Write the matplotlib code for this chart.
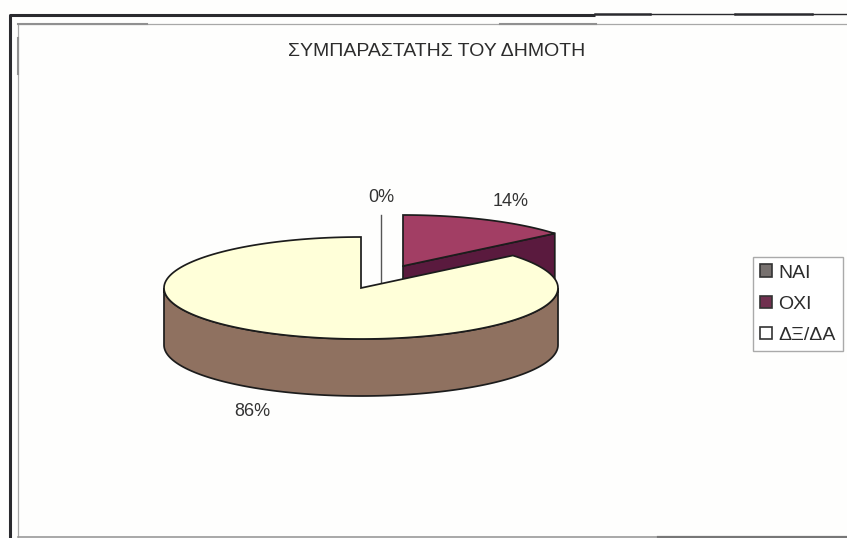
import numpy as np
import matplotlib
matplotlib.use("Agg")
import matplotlib.pyplot as plt
from matplotlib.patches import Patch

plt.rcParams['font.family'] = ['Liberation Sans', 'DejaVu Sans']

title = "ΣΥΜΠΑΡΑΣΤΑΤΗΣ ΤΟΥ ΔΗΜΟΤΗ"
categories = ["ΝΑΙ", "ΟΧΙ", "ΔΞ/ΔΑ"]
shares = [0, 14, 86]
pct_labels = ["0%", "14%", "86%"]

top_colors = ["#8F7160", "#A23E64", "#FFFFD9"]
side_colors = ["#8F7160", "#5A1A3E", "#8F7160"]
legend_colors = ["#77716F", "#70304F", "#FFFFFF"]
edge = "#1c1c1c"

RX, RY, DEPTH = 197, 51, 57
centers = [(381, 266), (403, 266), (361, 288)]
label_pos = [(381, 197), (511, 202), (252, 411)]

fig = plt.figure(figsize=(8.47, 5.38), dpi=100, facecolor="#FEFEFD")
ax = fig.add_axes([0, 0, 1, 1])
ax.set_xlim(0, 847)
ax.set_ylim(538, 0)
ax.axis("off")

# chart frame (scanned double border)
ax.plot([9.5, 9.5, 595], [538, 15, 15], color="#2a2a2e", lw=2.2, solid_capstyle="butt")
ax.plot([595, 650], [13.5, 13.5], color="#2a2a2e", lw=1.8)
ax.plot([650, 735], [14, 14], color="#2a2a2e", lw=1.0)
ax.plot([735, 812], [13.5, 13.5], color="#2a2a2e", lw=1.8)
ax.plot([812, 847], [14, 14], color="#2a2a2e", lw=1.0)
ax.plot([18, 18, 847], [538, 23.5, 23.5], color="#a8a8a8", lw=0.9)
ax.plot([18, 147], [23.5, 23.5], color="#909090", lw=1.5)
ax.plot([500, 596], [23.5, 23.5], color="#909090", lw=1.5)
ax.plot([18, 18], [38, 74], color="#909090", lw=1.5)
ax.plot([18, 658], [537, 537], color="#9a9a9a", lw=1.2)
ax.plot([658, 847], [537, 537], color="#777777", lw=1.6)


def rim(cx, cy, a0, a1, n=160):
    """Points on the ellipse, angle clockwise from 12 o'clock, in degrees."""
    t = np.radians(np.linspace(a0, a1, n))
    return cx + RX * np.sin(t), cy - RY * np.cos(t)


lw = 1.25
cum = np.concatenate([[0], np.cumsum(shares)]) * 3.6
for i in range(len(shares)):
    a0, a1 = cum[i], cum[i + 1]
    cx, cy = centers[i]
    x, y = rim(cx, cy, a0, a1)
    if shares[i] == 0:
        # a zero slice shows only as its radial edge
        ax.plot([cx, cx], [cy - RY, cy + DEPTH], color="#555555", lw=1.0, zorder=2)
        continue
    # wall along the front of the rim
    f0, f1 = max(a0, 90), min(a1, 270)
    if f1 > f0:
        fx, fy = rim(cx, cy, f0, f1)
        ax.fill(np.r_[fx, fx[::-1]], np.r_[fy, fy[::-1] + DEPTH],
                fc=side_colors[i], ec=edge, lw=lw, zorder=3 + i)
    # cut face on the closing radius
    if a1 < 90:
        ax.fill([cx, x[-1], x[-1], cx], [cy, y[-1], y[-1] + DEPTH, cy + DEPTH],
                fc=side_colors[i], ec=edge, lw=lw, zorder=3 + i)
    # top face
    ax.fill(np.r_[cx, x], np.r_[cy, y], fc=top_colors[i], ec=edge, lw=lw, zorder=3 + i)

for s, (lx, ly) in zip(pct_labels, label_pos):
    ax.text(lx, ly, s, ha="center", va="center", fontsize=13, color="#333333")

ax.text(436.5, 51, title, ha="center", va="center", fontsize=14, color="#2c2c2c")

handles = [Patch(fc=c, ec="#333333", lw=1.2) for c in legend_colors]
leg = ax.legend(handles, categories, loc="upper left",
                bbox_to_anchor=(753 / 847, 1 - 257 / 538), bbox_transform=fig.transFigure,
                frameon=True, fancybox=False, framealpha=1, borderaxespad=0,
                fontsize=14, handlelength=0.62, handleheight=0.62, handletextpad=0.3,
                labelspacing=0.72, borderpad=0.38, labelcolor="#2c2c2c")
leg.get_frame().set_edgecolor("#aaaaaa")
leg.get_frame().set_linewidth(1.0)

fig.savefig("out.png", dpi=100, facecolor=fig.get_facecolor())
